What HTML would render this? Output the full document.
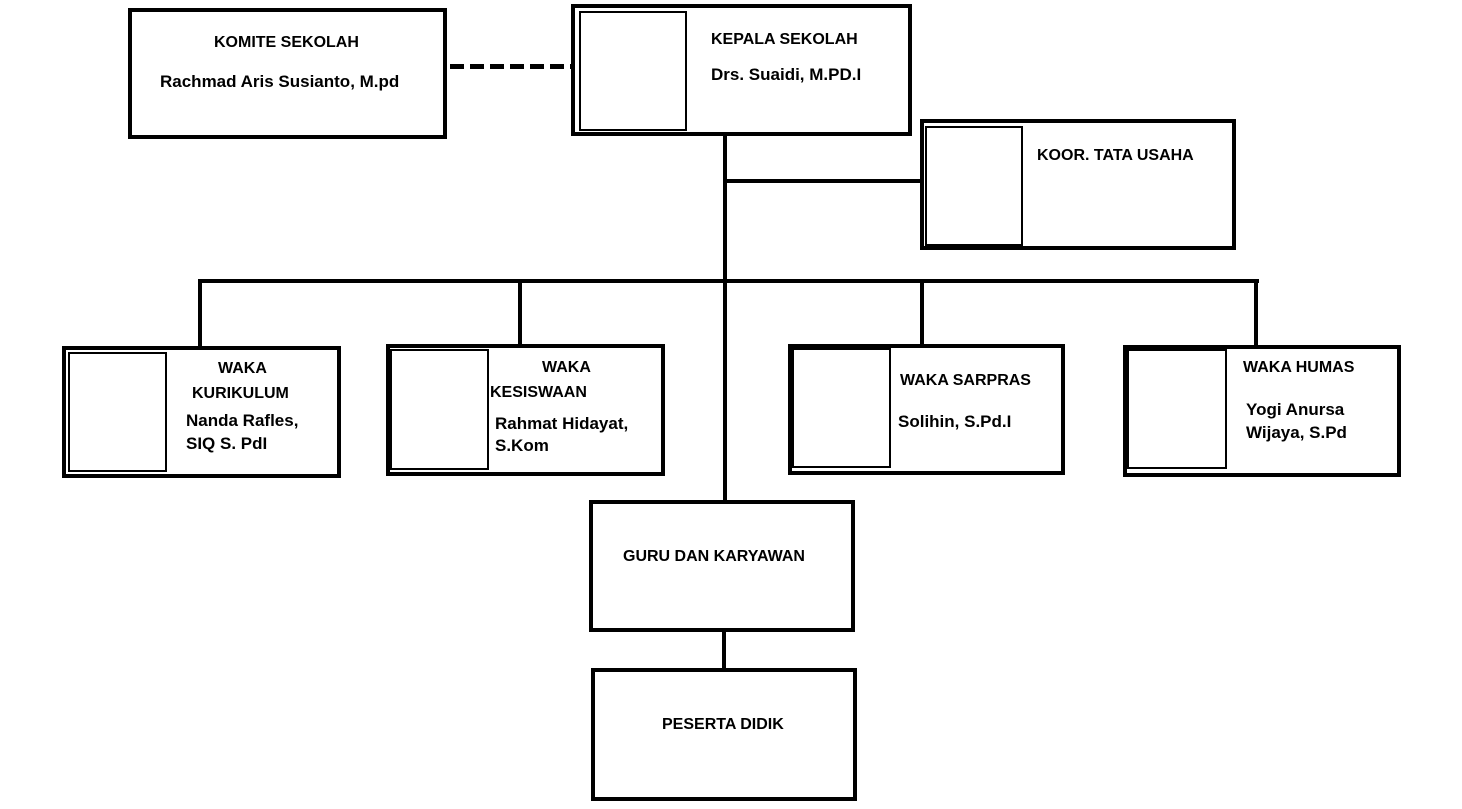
<!DOCTYPE html>
<html><head><meta charset="utf-8"><style>
body{margin:0;width:1462px;height:809px;background:#fff;position:relative;overflow:hidden;font-family:"Liberation Sans",Arial,sans-serif;font-weight:bold;color:#000}
.b{position:absolute;border:4px solid #000;box-sizing:border-box;background:#fff}
.p{position:absolute;border:2px solid #000;box-sizing:border-box}
.l{position:absolute;background:#000}
.t{position:absolute;font-size:16px;line-height:20px;white-space:nowrap}
.n{position:absolute;font-size:17px;line-height:22px;white-space:nowrap}
</style></head><body>
<div class="l" style="left:723px;top:135px;width:4px;height:366px"></div>
<div class="l" style="left:723px;top:179px;width:198px;height:4px"></div>
<div class="l" style="left:198px;top:279px;width:1061px;height:4px"></div>
<div class="l" style="left:198px;top:279px;width:4px;height:68px"></div>
<div class="l" style="left:518px;top:279px;width:4px;height:66px"></div>
<div class="l" style="left:920px;top:279px;width:4px;height:66px"></div>
<div class="l" style="left:1254px;top:279px;width:4px;height:67px"></div>
<div class="l" style="left:722px;top:630px;width:4px;height:40px"></div>
<div style="position:absolute;left:450px;top:64px;width:126px;height:5px;background:repeating-linear-gradient(90deg,#000 0 14px,transparent 14px 20px)"></div>
<div class="b" style="left:128px;top:8px;width:319px;height:131px"></div>
<div class="b" style="left:571px;top:4px;width:341px;height:132px"></div>
<div class="p" style="left:579px;top:11px;width:108px;height:120px"></div>
<div class="b" style="left:920px;top:119px;width:316px;height:131px"></div>
<div class="p" style="left:925px;top:126px;width:98px;height:120px"></div>
<div class="b" style="left:62px;top:346px;width:279px;height:132px"></div>
<div class="p" style="left:68px;top:352px;width:99px;height:120px"></div>
<div class="b" style="left:386px;top:344px;width:279px;height:132px"></div>
<div class="p" style="left:390px;top:349px;width:99px;height:121px"></div>
<div class="b" style="left:788px;top:344px;width:277px;height:131px"></div>
<div class="p" style="left:792px;top:348px;width:99px;height:120px"></div>
<div class="b" style="left:1123px;top:345px;width:278px;height:132px"></div>
<div class="p" style="left:1127px;top:349px;width:100px;height:120px"></div>
<div class="b" style="left:589px;top:500px;width:266px;height:132px"></div>
<div class="b" style="left:591px;top:668px;width:266px;height:133px"></div>
<div class="t" style="left:214px;top:33px">KOMITE SEKOLAH</div>
<div class="n" style="left:160px;top:71px">Rachmad Aris Susianto, M.pd</div>
<div class="t" style="left:711px;top:30px">KEPALA SEKOLAH</div>
<div class="n" style="left:711px;top:64px">Drs. Suaidi, M.PD.I</div>
<div class="t" style="left:1037px;top:146px">KOOR. TATA USAHA</div>
<div class="t" style="left:218px;top:359px">WAKA</div>
<div class="t" style="left:192px;top:384px">KURIKULUM</div>
<div class="n" style="left:186px;top:410px">Nanda Rafles,</div>
<div class="n" style="left:186px;top:433px">SIQ S. PdI</div>
<div class="t" style="left:542px;top:358px">WAKA</div>
<div class="t" style="left:490px;top:383px">KESISWAAN</div>
<div class="n" style="left:495px;top:413px">Rahmat Hidayat,</div>
<div class="n" style="left:495px;top:435px">S.Kom</div>
<div class="t" style="left:900px;top:371px">WAKA SARPRAS</div>
<div class="n" style="left:898px;top:411px">Solihin, S.Pd.I</div>
<div class="t" style="left:1243px;top:358px">WAKA HUMAS</div>
<div class="n" style="left:1246px;top:399px">Yogi Anursa</div>
<div class="n" style="left:1246px;top:422px">Wijaya, S.Pd</div>
<div class="t" style="left:623px;top:547px">GURU DAN KARYAWAN</div>
<div class="t" style="left:662px;top:715px">PESERTA DIDIK</div>
</body></html>
